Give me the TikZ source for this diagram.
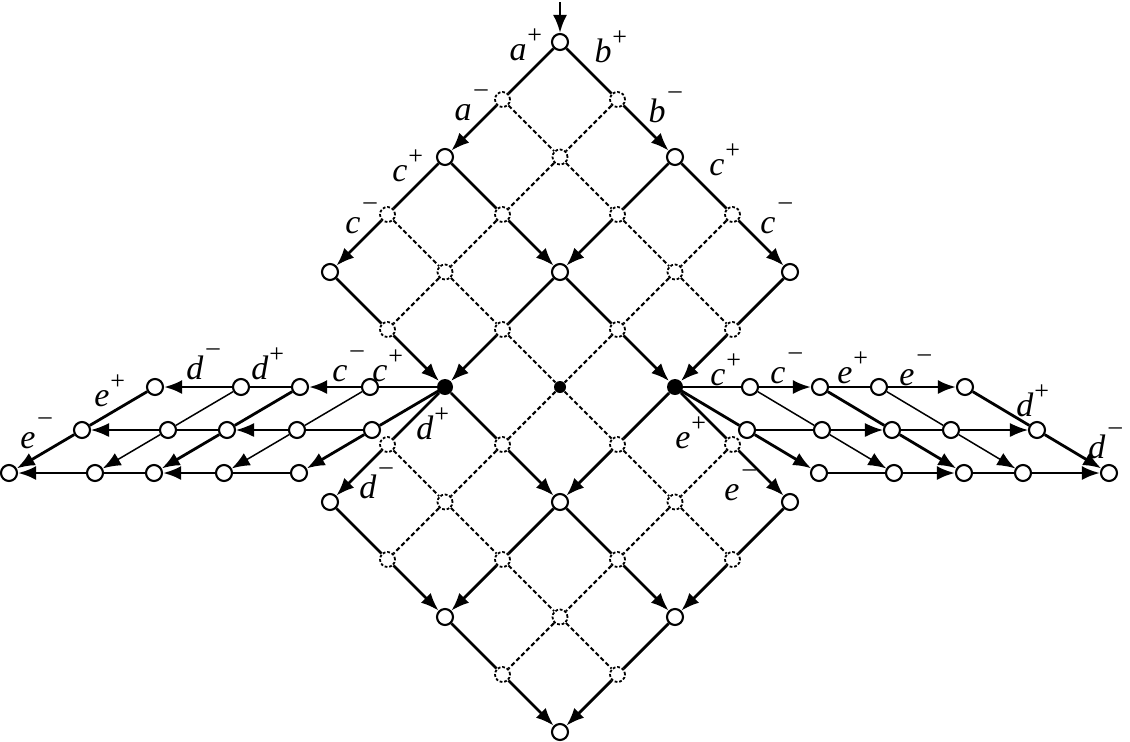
\documentclass[tikz,border=0pt]{standalone}
\usepackage{fontspec}
\setmainfont{Liberation Serif}
\usetikzlibrary{arrows.meta}
\newcommand\Lp[1]{\textit{#1}\rlap{\kern0.4pt\raisebox{8.3pt}{\fontsize{13}{13}\selectfont +}}}
\newcommand\Lm[1]{\textit{#1}\rlap{\kern1.6pt\raisebox{11.8pt}{\fontsize{13}{13}\selectfont –}}}
\begin{document}
\begin{tikzpicture}[x=0.5pt,y=-0.5pt,
 st/.style={circle,draw,fill=white,line width=1.05pt,minimum size=8pt,inner sep=0pt},
 dn/.style={circle,draw,fill=white,line width=0.9pt,dash pattern=on 1.4pt off 0.9pt,minimum size=7.5pt,inner sep=0pt},
 bk/.style={circle,fill=black,minimum size=8pt,inner sep=0pt},
 bks/.style={circle,fill=black,minimum size=6pt,inner sep=0pt},
 ed/.style={line width=1.4pt},
 ar/.style={line width=1.4pt,-{Latex[length=9pt,width=7pt]}},
 dl/.style={line width=1.05pt,dash pattern=on 2.2pt off 1.3pt},
 tn/.style={line width=0.75pt},
 tna/.style={line width=0.75pt,-{Latex[length=9pt,width=7pt]}},
 lb/.style={anchor=base,inner sep=0pt,font=\fontsize{17}{20}\selectfont}]
\useasboundingbox (0,0) rectangle (1130,741);
% main lattice nodes
\foreach \i in {0,...,6}{\foreach \j in {0,...,6}{
  \pgfmathtruncatemacro\ex{((\i<5)&&(\j<5))||((\i>1)&&(\j>1))}
  \ifnum\ex=1
    \pgfmathtruncatemacro\ev{(mod(\i,2)==0)&&(mod(\j,2)==0)}
    \pgfmathtruncatemacro\rs{\i+\j}
    \pgfmathsetmacro\px{560+57.5*(\j-\i)}
    \pgfmathsetmacro\py{42+57.5*(\i+\j)}
    \ifnum\rs=6
      \ifnum\ev=1 \node[bk] (g\i-\j) at (\px,\py) {};
      \else \node[bks] (g\i-\j) at (\px,\py) {}; \fi
    \else
      \ifnum\ev=1 \node[st] (g\i-\j) at (\px,\py) {};
      \else \node[dn] (g\i-\j) at (\px,\py) {}; \fi
    \fi
  \fi
}}
% main lattice edges, i direction
\foreach \i in {0,...,5}{\foreach \j in {0,...,6}{
  \pgfmathtruncatemacro\ii{\i+1}
  \pgfmathtruncatemacro\ea{((\i<5)&&(\j<5))||((\i>1)&&(\j>1))}
  \pgfmathtruncatemacro\eb{((\ii<5)&&(\j<5))||((\ii>1)&&(\j>1))}
  \pgfmathtruncatemacro\ok{\ea*\eb}
  \ifnum\ok=1
    \pgfmathtruncatemacro\jo{mod(\j,2)}
    \pgfmathtruncatemacro\tq{mod(\ii,2)}
    \ifnum\jo=1 \draw[dl] (g\i-\j) -- (g\ii-\j);
    \else \ifnum\tq=0 \draw[ar] (g\i-\j) -- (g\ii-\j);
      \else \draw[ed] (g\i-\j) -- (g\ii-\j); \fi
    \fi
  \fi
}}
% main lattice edges, j direction
\foreach \i in {0,...,6}{\foreach \j in {0,...,5}{
  \pgfmathtruncatemacro\jj{\j+1}
  \pgfmathtruncatemacro\ea{((\i<5)&&(\j<5))||((\i>1)&&(\j>1))}
  \pgfmathtruncatemacro\eb{((\i<5)&&(\jj<5))||((\i>1)&&(\jj>1))}
  \pgfmathtruncatemacro\ok{\ea*\eb}
  \ifnum\ok=1
    \pgfmathtruncatemacro\io{mod(\i,2)}
    \pgfmathtruncatemacro\tq{mod(\jj,2)}
    \ifnum\io=1 \draw[dl] (g\i-\j) -- (g\i-\jj);
    \else \ifnum\tq=0 \draw[ar] (g\i-\j) -- (g\i-\jj);
      \else \draw[ed] (g\i-\j) -- (g\i-\jj); \fi
    \fi
  \fi
}}
% wings
\coordinate (L0-0) at (g4-2.center);
\coordinate (R0-0) at (g2-4.center);
\foreach \h/\o in {0/0,1/75,2/145,3/204,4/290}{\foreach \v in {0,1,2}{
  \pgfmathtruncatemacro\sk{\h+\v}
  \ifnum\sk>0
   \node[st] (L\h-\v) at (445-\o-73*\v, 387+43*\v) {};
   \node[st] (R\h-\v) at (675+\o+72*\v, 387+43*\v) {};
  \fi}}
\foreach \s in {L,R}{
 \foreach \h in {0,...,3}{\foreach \v in {0,1,2}{
   \pgfmathtruncatemacro\hh{\h+1}
   \pgfmathtruncatemacro\vo{mod(\v,2)}
   \pgfmathtruncatemacro\he{mod(\hh,2)}
   \ifnum\vo=1 \ifnum\he=0 \def\sty{tna}\else\def\sty{tn}\fi
   \else \ifnum\he=0 \def\sty{ar}\else\def\sty{ed}\fi\fi
   \draw[\sty] (\s\h-\v) -- (\s\hh-\v);
 }}
 \foreach \h in {0,...,4}{\foreach \v in {0,1}{
   \pgfmathtruncatemacro\vv{\v+1}
   \pgfmathtruncatemacro\ho{mod(\h,2)}
   \pgfmathtruncatemacro\ve{mod(\vv,2)}
   \ifnum\ho=1 \ifnum\ve=0 \def\sty{tna}\else\def\sty{tn}\fi
   \else \ifnum\ve=0 \def\sty{ar}\else\def\sty{ed}\fi\fi
   \draw[\sty] (\s\h-\v) -- (\s\h-\vv);
 }}
}
% entry arrow
\coordinate (in) at (560,2);
\draw[ar] (in) -- (g0-0);
% labels
\node[lb] at (518,60) {\Lp{a}};
\node[lb] at (603,62) {\Lp{b}};
\node[lb] at (463,120) {\Lm{a}};
\node[lb] at (657,122) {\Lm{b}};
\node[lb] at (400,181) {\Lp{c}};
\node[lb] at (717,175) {\Lp{c}};
\node[lb] at (353,233) {\Lm{c}};
\node[lb] at (768,233) {\Lm{c}};
\node[lb] at (380,381) {\Lp{c}};
\node[lb] at (340,381) {\Lm{c}};
\node[lb] at (260,379) {\Lp{d}};
\node[lb] at (195,379) {\Lm{d}};
\node[lb] at (102,406) {\Lp{e}};
\node[lb] at (28,448) {\Lm{e}};
\node[lb] at (425,439) {\Lp{d}};
\node[lb] at (368,498) {\Lm{d}};
\node[lb] at (718,385) {\Lp{c}};
\node[lb] at (778,383) {\Lm{c}};
\node[lb] at (845,383) {\Lp{e}};
\node[lb] at (907,385) {\Lm{e}};
\node[lb] at (1025,416) {\Lp{d}};
\node[lb] at (1097,458) {\Lm{d}};
\node[lb] at (683,448) {\Lp{e}};
\node[lb] at (732,500) {\Lm{e}};
\end{tikzpicture}
\end{document}
